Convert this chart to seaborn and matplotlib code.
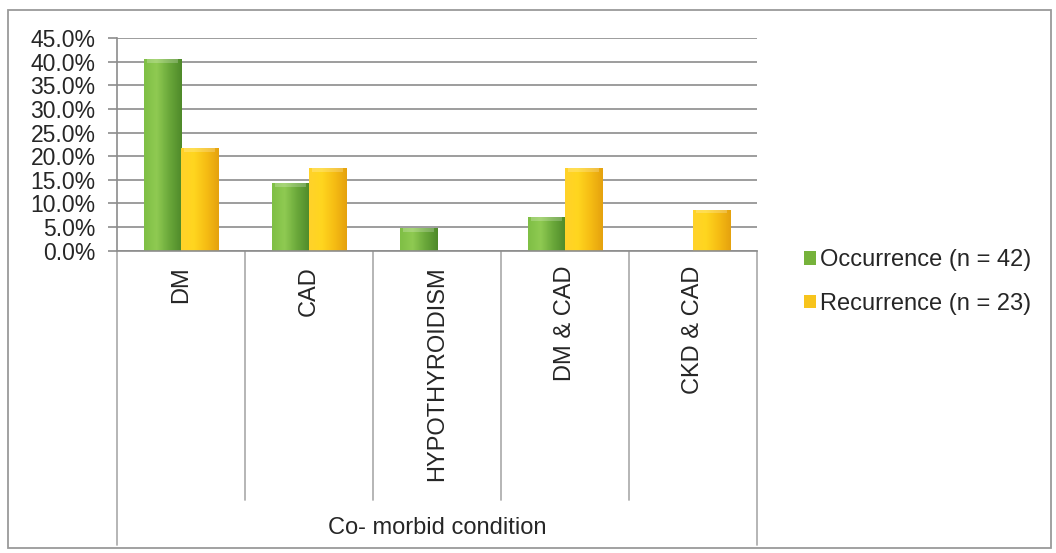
import numpy as np
import pandas as pd
import matplotlib
matplotlib.use("Agg")
import matplotlib.pyplot as plt
from matplotlib.patches import Patch, Rectangle
from matplotlib.colors import LinearSegmentedColormap
import seaborn as sns

# Co-morbid conditions and share of patients (fractions)
categories = ["DM", "CAD", "HYPOTHYROIDISM", "DM & CAD", "CKD & CAD"]
occurrence = [0.405, 0.143, 0.048, 0.071, 0.0]    # n = 42
recurrence = [0.217, 0.174, 0.0, 0.174, 0.087]    # n = 23
series_names = ["Occurrence (n = 42)", "Recurrence (n = 23)"]
y_ticks = [0.0, 0.05, 0.10, 0.15, 0.20, 0.25, 0.30, 0.35, 0.40, 0.45]

df = pd.DataFrame({
    "condition": categories * 2,
    "value": occurrence + recurrence,
    "series": [series_names[0]] * len(categories) + [series_names[1]] * len(categories),
})

sns.set_theme(style="white")
plt.rcParams["font.family"] = ["Liberation Sans", "DejaVu Sans"]

text_col = "#262626"
grid_col = "#8c8c8c"
green, yellow = "#76b23b", "#f7c41c"

W, H = 1056, 553
fig = plt.figure(figsize=(W / 100, H / 100), dpi=100)
ax = fig.add_axes([117 / W, 1 - 250.7 / H, (757 - 117) / W, (250.7 - 38) / H])

sns.barplot(data=df, x="condition", y="value", hue="series",
            palette=[green, yellow], width=0.585, ax=ax,
            saturation=1, legend=False, edgecolor="none", linewidth=0)

# Glossy horizontal gradient on each bar
grad_maps = {
    green: LinearSegmentedColormap.from_list("g", ["#7fbf45", "#8fca52", "#6aa83a", "#4f8a2a"]),
    yellow: LinearSegmentedColormap.from_list("y", ["#ffd22a", "#ffd61f", "#f6bd14", "#e5a20e"]),
}
grad = np.linspace(0, 1, 64).reshape(1, -1)
for patch in list(ax.patches):
    h = patch.get_height()
    if h <= 0:
        continue
    x0, w = patch.get_x(), patch.get_width()
    fc = matplotlib.colors.to_hex(patch.get_facecolor())
    cmap = grad_maps[green] if fc == green else grad_maps[yellow]
    im = ax.imshow(grad, cmap=cmap, aspect="auto", extent=(x0, x0 + w, 0, h),
                   zorder=patch.get_zorder() + 0.1, interpolation="bicubic")
    im.set_clip_path(patch)
    # light cap on top of each bar
    cap = min(0.008, h * 0.5)
    ax.add_patch(Rectangle((x0 + w * 0.08, h - cap), w * 0.84, cap,
                           facecolor="white", alpha=0.22, edgecolor="none",
                           zorder=patch.get_zorder() + 0.2))

ax.set_xlim(-0.5, len(categories) - 0.5)
ax.set_ylim(0, 0.45)
ax.set_yticks(y_ticks)
ax.set_yticklabels([f"{v * 100:.1f}%" for v in y_ticks], fontsize=16.5, color=text_col)
ax.yaxis.grid(True, color=grid_col, linewidth=1.2)
ax.set_axisbelow(True)
ax.tick_params(axis="y", which="both", left=True, length=6.5, width=1.2,
               color=grid_col, pad=9)

ax.set_xticks(range(len(categories)))
ax.set_xticklabels(categories, rotation=90, fontsize=17, color=text_col, va="top")
ax.tick_params(axis="x", length=0, pad=11)

for side in ["top", "right"]:
    ax.spines[side].set_visible(False)
for side in ["left", "bottom"]:
    ax.spines[side].set_color(grid_col)
    ax.spines[side].set_linewidth(1.2)

ax.set_ylabel("")
ax.set_xlabel("Co- morbid condition", fontsize=17, color=text_col)
ax.xaxis.label.set_va("center")
ax.xaxis.set_label_coords(0.5, -(528 - 250.7) / 212.7)

# Category divider lines below the axis
xt = ax.get_xaxis_transform()
inner_bottom = -(500 - 250.7) / 212.7
outer_bottom = -(545 - 250.7) / 212.7
for b in np.arange(0.5, len(categories) - 0.5):
    ax.plot([b, b], [0, inner_bottom], transform=xt, color="#b0b0b0",
            lw=1.3, clip_on=False)
for b in [-0.5, len(categories) - 0.5]:
    ax.plot([b, b], [0, outer_bottom], transform=xt, color="#b0b0b0",
            lw=1.3, clip_on=False)

# Legend
handles = [Patch(facecolor=green, edgecolor="none"),
           Patch(facecolor=yellow, edgecolor="none")]
fig.legend(handles, series_names, loc="center left",
           bbox_to_anchor=(792 / W, 1 - 282 / H), frameon=False,
           fontsize=17, handlelength=0.5, handleheight=0.5,
           handletextpad=0.2, labelspacing=0.9, labelcolor=text_col,
           borderpad=0)

# Outer chart frame
fig.add_artist(Rectangle((8 / W, 1 - 548 / H), (1051 - 8) / W, (548 - 10) / H,
                         transform=fig.transFigure, fill=False,
                         edgecolor="#9a9a9a", linewidth=1.3))

fig.savefig("out.png", dpi=100, facecolor="white")
